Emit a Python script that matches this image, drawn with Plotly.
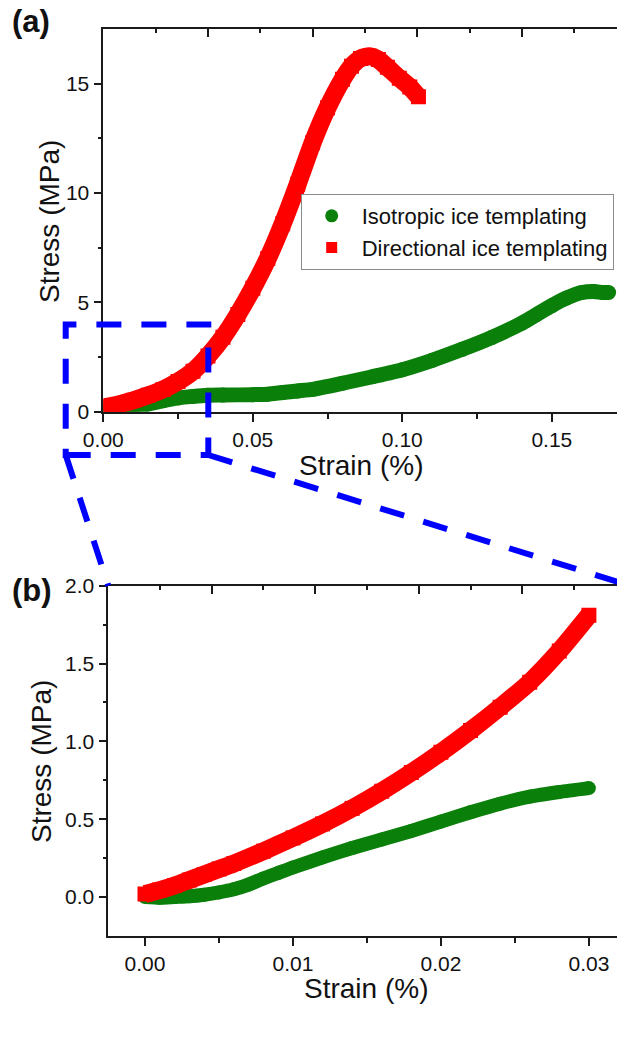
import plotly.graph_objects as go

W, H = 617, 1046

# ---------------- data: panel (a) ----------------
iso_a_x = [0, 0.005, 0.01, 0.015, 0.02, 0.025, 0.03, 0.035, 0.04, 0.05, 0.055, 0.06, 0.065,
           0.07, 0.08, 0.09, 0.10, 0.11, 0.12, 0.13, 0.14, 0.145, 0.15, 0.155, 0.16,
           0.164, 0.167, 0.169]
iso_a_y = [0, 0.02, 0.18, 0.35, 0.5, 0.63, 0.7, 0.75, 0.76, 0.78, 0.8, 0.88, 0.95,
           1.02, 1.3, 1.6, 1.92, 2.35, 2.85, 3.4, 4.05, 4.45, 4.85, 5.2, 5.45,
           5.5, 5.45, 5.45]

dir_a_x = [0, 0.005, 0.01, 0.015, 0.02, 0.025, 0.03, 0.035, 0.04, 0.045, 0.05, 0.055,
           0.06, 0.065, 0.07, 0.075, 0.08, 0.083, 0.086, 0.089, 0.092, 0.095, 0.099,
           0.1025, 0.1054]
dir_a_y = [0.2, 0.33, 0.52, 0.75, 1.02, 1.38, 1.85, 2.55, 3.4, 4.45, 5.65, 7.0,
           8.6, 10.4, 12.3, 13.9, 15.2, 15.8, 16.15, 16.25, 16.1, 15.75, 15.25,
           14.85, 14.4]

# ---------------- data: panel (b) ----------------
iso_b_x = [0, 0.001, 0.002, 0.003, 0.004, 0.005, 0.006, 0.007, 0.008, 0.009, 0.010,
           0.012, 0.014, 0.016, 0.018, 0.020, 0.022, 0.024, 0.026, 0.028, 0.030]
iso_b_y = [0, -0.005, 0.0, 0.005, 0.015, 0.03, 0.05, 0.08, 0.12, 0.155, 0.19,
           0.255, 0.315, 0.37, 0.425, 0.485, 0.545, 0.6, 0.645, 0.675, 0.70]

dir_b_x = [0, 0.001, 0.002, 0.003, 0.004, 0.005, 0.006, 0.008, 0.010, 0.012, 0.014,
           0.016, 0.018, 0.020, 0.022, 0.024, 0.026, 0.028, 0.030]
dir_b_y = [0.02, 0.045, 0.075, 0.11, 0.145, 0.18, 0.215, 0.295, 0.38, 0.47, 0.57,
           0.68, 0.8, 0.93, 1.07, 1.22, 1.38, 1.58, 1.81]

series_names = ["Isotropic ice templating", "Directional ice templating"]

# ---------------- ticks ----------------
a_xticks = [0, 0.05, 0.10, 0.15]
a_xticklabels = ["0.00", "0.05", "0.10", "0.15"]
a_xminor = [0.025, 0.075, 0.125]
a_yticks = [0, 5, 10, 15]
a_yticklabels = ["0", "5", "10", "15"]
a_yminor = [2.5, 7.5, 12.5]
a_topmajor = [0.035, 0.070, 0.105, 0.140]
a_topminor = [0.0175, 0.0525, 0.0875, 0.1225, 0.1575]

b_xticks = [0, 0.01, 0.02, 0.03]
b_xticklabels = ["0.00", "0.01", "0.02", "0.03"]
b_xminor = [0.005, 0.015, 0.025]
b_yticks = [0, 0.5, 1.0, 1.5, 2.0]
b_yticklabels = ["0.0", "0.5", "1.0", "1.5", "2.0"]
b_yminor = [0.25, 0.75, 1.25, 1.75]
b_topmajor = [0.0045, 0.0115, 0.0185, 0.0255]
b_topminor = [0.0010, 0.0080, 0.0150, 0.0220, 0.0290]

GREEN = "#0a800a"
RED = "#ff0000"
BLUE = "#0000ff"
AXC = "#1a1a1a"
FONT = "Liberation Sans, Arial, sans-serif"


def px(x):
    return x / W


def py(y):
    return 1 - y / H


fig = go.Figure()

# panel (a)
fig.add_trace(go.Scatter(x=iso_a_x, y=iso_a_y, mode="lines+markers", xaxis="x", yaxis="y",
                         line=dict(color=GREEN, width=15, shape="spline", smoothing=0.6),
                         marker=dict(symbol="circle", size=15, color=GREEN),
                         showlegend=False, hoverinfo="skip"))
fig.add_trace(go.Scatter(x=dir_a_x, y=dir_a_y, mode="lines+markers", xaxis="x", yaxis="y",
                         line=dict(color=RED, width=18, shape="spline", smoothing=0.6),
                         marker=dict(symbol="square", size=15, color=RED),
                         showlegend=False, hoverinfo="skip"))
# panel (b)
fig.add_trace(go.Scatter(x=iso_b_x, y=iso_b_y, mode="lines+markers", xaxis="x2", yaxis="y2",
                         line=dict(color=GREEN, width=14, shape="spline", smoothing=0.6),
                         marker=dict(symbol="circle", size=14, color=GREEN),
                         showlegend=False, hoverinfo="skip"))
fig.add_trace(go.Scatter(x=dir_b_x, y=dir_b_y, mode="lines+markers", xaxis="x2", yaxis="y2",
                         line=dict(color=RED, width=18, shape="spline", smoothing=0.6),
                         marker=dict(symbol="square", size=15, color=RED),
                         showlegend=False, hoverinfo="skip"))

# legend entries
fig.add_trace(go.Scatter(x=[None], y=[None], mode="markers", name=series_names[0],
                         marker=dict(symbol="circle", size=13, color=GREEN),
                         xaxis="x", yaxis="y"))
fig.add_trace(go.Scatter(x=[None], y=[None], mode="markers", name=series_names[1],
                         marker=dict(symbol="square", size=11, color=RED),
                         xaxis="x", yaxis="y"))

# invisible traces so the top tick axes are drawn
fig.add_trace(go.Scatter(x=[None], y=[None], xaxis="x3", yaxis="y", showlegend=False,
                         hoverinfo="skip"))
fig.add_trace(go.Scatter(x=[None], y=[None], xaxis="x4", yaxis="y2", showlegend=False,
                         hoverinfo="skip"))

tickfont = dict(family=FONT, size=21, color="#111")
common = dict(showgrid=False, zeroline=False, showline=True, linecolor=AXC, linewidth=1.6,
              ticks="outside", tickcolor=AXC, tickwidth=1.6, ticklen=8,
              tickfont=tickfont, automargin=False, tickmode="array")

a_dom_x = [px(103.3), 1.0]
a_dom_y = [py(411.7), py(29)]
b_dom_x = [px(108.3), 1.0]
b_dom_y = [py(936), py(585.7)]

fig.update_layout(
    width=W, height=H,
    margin=dict(l=0, r=0, t=0, b=0),
    paper_bgcolor="white", plot_bgcolor="white",
    template="none",
    font=dict(family=FONT, color="#111"),
    xaxis=dict(domain=a_dom_x, anchor="y", range=[0, 0.1718],
               tickvals=a_xticks, ticktext=a_xticklabels,
               minor=dict(tickvals=a_xminor, ticks="outside", ticklen=5,
                          tickcolor=AXC, tickwidth=1.6), **common),
    yaxis=dict(domain=a_dom_y, anchor="x", range=[0, 17.5],
               tickvals=a_yticks, ticktext=a_yticklabels,
               minor=dict(tickvals=a_yminor, ticks="outside", ticklen=4,
                          tickcolor=AXC, tickwidth=1.6), **common),
    xaxis3=dict(overlaying="x", anchor="y", side="top", range=[0, 0.1718],
                showgrid=False, zeroline=False, showline=True, linecolor=AXC, linewidth=1.6,
                ticks="inside", tickcolor=AXC, tickwidth=1.6, ticklen=8, showticklabels=False,
                tickmode="array", tickvals=a_topmajor, automargin=False,
                minor=dict(tickvals=a_topminor, ticks="inside", ticklen=4,
                           tickcolor=AXC, tickwidth=1.6)),
    xaxis2=dict(domain=b_dom_x, anchor="y2", range=[-0.00248, 0.0319],
                tickvals=b_xticks, ticktext=b_xticklabels,
                minor=dict(tickvals=b_xminor, ticks="outside", ticklen=5,
                           tickcolor=AXC, tickwidth=1.6), **common),
    yaxis2=dict(domain=b_dom_y, anchor="x2", range=[-0.25, 2.0],
                tickvals=b_yticks, ticktext=b_yticklabels,
                minor=dict(tickvals=b_yminor, ticks="outside", ticklen=4,
                           tickcolor=AXC, tickwidth=1.6), **common),
    xaxis4=dict(overlaying="x2", anchor="y2", side="top", range=[-0.00248, 0.0319],
                showgrid=False, zeroline=False, showline=True, linecolor=AXC, linewidth=1.6,
                ticks="inside", tickcolor=AXC, tickwidth=1.6, ticklen=8, showticklabels=False,
                tickmode="array", tickvals=b_topmajor, automargin=False,
                minor=dict(tickvals=b_topminor, ticks="inside", ticklen=4,
                           tickcolor=AXC, tickwidth=1.6)),
    legend=dict(x=px(300.7), y=py(194), xanchor="left", yanchor="top",
                bgcolor="white", bordercolor="#8a8a8a", borderwidth=1,
                font=dict(family=FONT, size=22, color="#111"),
                itemwidth=50, tracegroupgap=0),
    showlegend=True,
)

# axis titles & panel labels
title_font = dict(family=FONT, size=28, color="#111")
label_font = dict(family=FONT, size=31, color="#111")
annots = [
    dict(text="Strain (%)", x=px(361), y=py(465), font=title_font, textangle=0),
    dict(text="Stress (MPa)", x=px(49), y=py(222), font=title_font, textangle=-90),
    dict(text="Strain (%)", x=px(366), y=py(988), font=title_font, textangle=0),
    dict(text="Stress (MPa)", x=px(41), y=py(762), font=title_font, textangle=-90),
    dict(text="<b>(a)</b>", x=px(31), y=py(21), font=label_font),
    dict(text="<b>(b)</b>", x=px(32), y=py(590), font=label_font),
]
for a in annots:
    fig.add_annotation(xref="paper", yref="paper", showarrow=False,
                       xanchor="center", yanchor="middle", **a)

# zoom indicator (blue dashed)
dash = "25px,20px"
fig.add_shape(type="rect", xref="paper", yref="paper",
              x0=px(65.7), x1=px(208.3), y0=py(455), y1=py(324.5),
              line=dict(color=BLUE, width=6, dash=dash), layer="above")
fig.add_shape(type="line", xref="paper", yref="paper",
              x0=px(65.7), y0=py(455), x1=px(108.3), y1=py(585.7),
              line=dict(color=BLUE, width=6, dash=dash), layer="above")
fig.add_shape(type="line", xref="paper", yref="paper",
              x0=px(208.3), y0=py(455), x1=px(630), y1=py(585.7),
              line=dict(color=BLUE, width=6, dash=dash), layer="above")

fig.write_html("out.html")
